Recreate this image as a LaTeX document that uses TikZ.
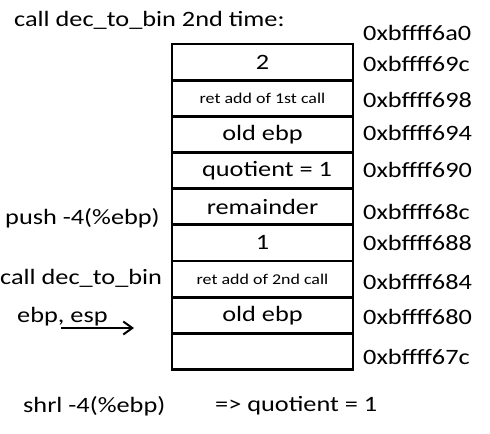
\documentclass[tikz,border=0pt]{standalone}
\usepackage{fontspec}
\setmainfont{Carlito}[FakeStretch=1.2]
\usetikzlibrary{arrows.meta}

\begin{document}
\begin{tikzpicture}[x=1bp,y=-1bp,
	cell/.style={draw, line width=2.7bp, minimum width=181bp, minimum height=36.2bp, inner sep=0pt, font=\fontsize{22}{22}\selectfont},
	small/.style={font=\fontsize{15}{15}\selectfont},
	addr/.style={anchor=west, inner sep=0pt, font=\fontsize{22}{22}\selectfont},
	txt/.style={anchor=west, inner sep=0pt, font=\fontsize{22}{22}\selectfont}]
	\useasboundingbox (0,0) rectangle (490,434);

	\node[txt] (title) at (14,20) {call dec\_to\_bin 2nd time:};

	% stack
	\node[cell] (c1) at (262.5,62.1) {2};
	\node[cell,small] (c2) at (262.5,98.3) {ret add of 1st call};
	\node[cell] (c3) at (262.5,134.4) {old ebp};
	\node[cell] (c4) at (262.5,170.6) {\hspace{9bp}quotient = 1};
	\node[cell] (c5) at (262.5,206.7) {remainder};
	\node[cell] (c6) at (262.5,242.9) {1};
	\node[cell,small] (c7) at (262.5,279.1) {ret add of 2nd call};
	\node[cell] (c8) at (262.5,315.2) {old ebp};
	\node[cell] (c9) at (262.5,351.4) {};

	% addresses
	\node[addr] (a0) at (363,33) {0xbffff6a0};
	\node[addr] (a1) at (363,64) {0xbffff69c};
	\node[addr] (a2) at (363,100) {0xbffff698};
	\node[addr] (a3) at (363,133) {0xbffff694};
	\node[addr] (a4) at (363,170) {0xbffff690};
	\node[addr] (a5) at (363,212) {0xbffff68c};
	\node[addr] (a6) at (363,243) {0xbffff688};
	\node[addr] (a7) at (363,282) {0xbffff684};
	\node[addr] (a8) at (363,317) {0xbffff680};
	\node[addr] (a9) at (363,357) {0xbffff67c};

	% instructions
	\node[txt] (push) at (5,218) {push -4(\%ebp)};
	\node[txt] (call) at (0,278) {call dec\_to\_bin};
	\node[txt] (regs) at (17,317) {ebp, esp};
	\coordinate (from) at (61,328);
	\coordinate (to) at (134,328);
	\draw[-{Straight Barb[length=9bp,width=13bp]}, line width=2bp] (from) -- (to);

	\node[txt] (shrl) at (23,406) {shrl -4(\%ebp)};
	\node[txt] (res) at (215,406) {=> quotient = 1};
\end{tikzpicture}
\end{document}
